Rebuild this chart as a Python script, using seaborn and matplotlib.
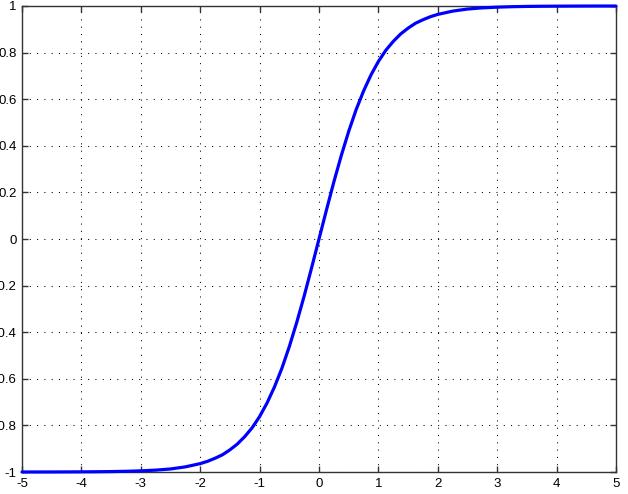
import numpy as np
import pandas as pd
import matplotlib
matplotlib.use("Agg")
import matplotlib.pyplot as plt
import seaborn as sns

# values
x_vals = [-5.0, -4.75, -4.5, -4.25, -4.0, -3.75, -3.5, -3.25, -3.0, -2.75, -2.5,
          -2.25, -2.0, -1.875, -1.75, -1.625, -1.5, -1.375, -1.25, -1.125, -1.0,
          -0.875, -0.75, -0.625, -0.5, -0.375, -0.25, -0.125, 0.0,
          0.125, 0.25, 0.375, 0.5, 0.625, 0.75, 0.875, 1.0,
          1.125, 1.25, 1.375, 1.5, 1.625, 1.75, 1.875, 2.0, 2.25, 2.5,
          2.75, 3.0, 3.25, 3.5, 3.75, 4.0, 4.25, 4.5, 4.75, 5.0]
y_vals = [-0.9999, -0.9999, -0.9998, -0.9996, -0.9993, -0.9989, -0.9982, -0.997, -0.995, -0.992, -0.987,
          -0.978, -0.964, -0.954, -0.941, -0.926, -0.905, -0.880, -0.848, -0.810, -0.762,
          -0.704, -0.635, -0.555, -0.462, -0.358, -0.245, -0.124, 0.0,
          0.124, 0.245, 0.358, 0.462, 0.555, 0.635, 0.704, 0.762,
          0.810, 0.848, 0.880, 0.905, 0.926, 0.941, 0.954, 0.964, 0.978, 0.987,
          0.992, 0.995, 0.997, 0.9982, 0.9989, 0.9993, 0.9996, 0.9998, 0.9999, 0.9999]
x_ticks = [-5, -4, -3, -2, -1, 0, 1, 2, 3, 4, 5]
x_tick_labels = ["-5", "-4", "-3", "-2", "-1", "0", "1", "2", "3", "4", "5"]
y_ticks = [-1, -0.8, -0.6, -0.4, -0.2, 0, 0.2, 0.4, 0.6, 0.8, 1]
y_tick_labels = ["-1", "-0.8", "-0.6", "-0.4", "-0.2", "0", "0.2", "0.4", "0.6", "0.8", "1"]

df = pd.DataFrame({"x": x_vals, "y": y_vals})

sns.set_theme(style="white")
plt.rcParams["font.family"] = ["Liberation Sans", "DejaVu Sans"]
plt.rcParams["axes.unicode_minus"] = False

fig = plt.figure(figsize=(6.28, 4.94), dpi=100)
ax = fig.add_axes([22 / 628, 22 / 494, (616 - 22) / 628, (472 - 6) / 494])

sns.lineplot(data=df, x="x", y="y", ax=ax, color="#0000ff", linewidth=2.3,
             clip_on=False, zorder=5)

ax.set_xlim(-5, 5)
ax.set_ylim(-1, 1)
ax.set_xticks(x_ticks)
ax.set_xticklabels(x_tick_labels)
ax.set_yticks(y_ticks)
ax.set_yticklabels(y_tick_labels)
ax.set_xlabel("")
ax.set_ylabel("")

ax.grid(True, color="black", linestyle=(0, (1, 6)), linewidth=0.75)
for s in ax.spines.values():
    s.set_color("#333333")
    s.set_linewidth(1.0)
    s.set_visible(True)
ax.tick_params(direction="in", length=4.5, width=1.0, color="#333333",
               top=True, right=True, bottom=True, left=True,
               labelsize=9.5, labelcolor="black", pad=4)

fig.savefig("out.png", dpi=100, facecolor="white")
